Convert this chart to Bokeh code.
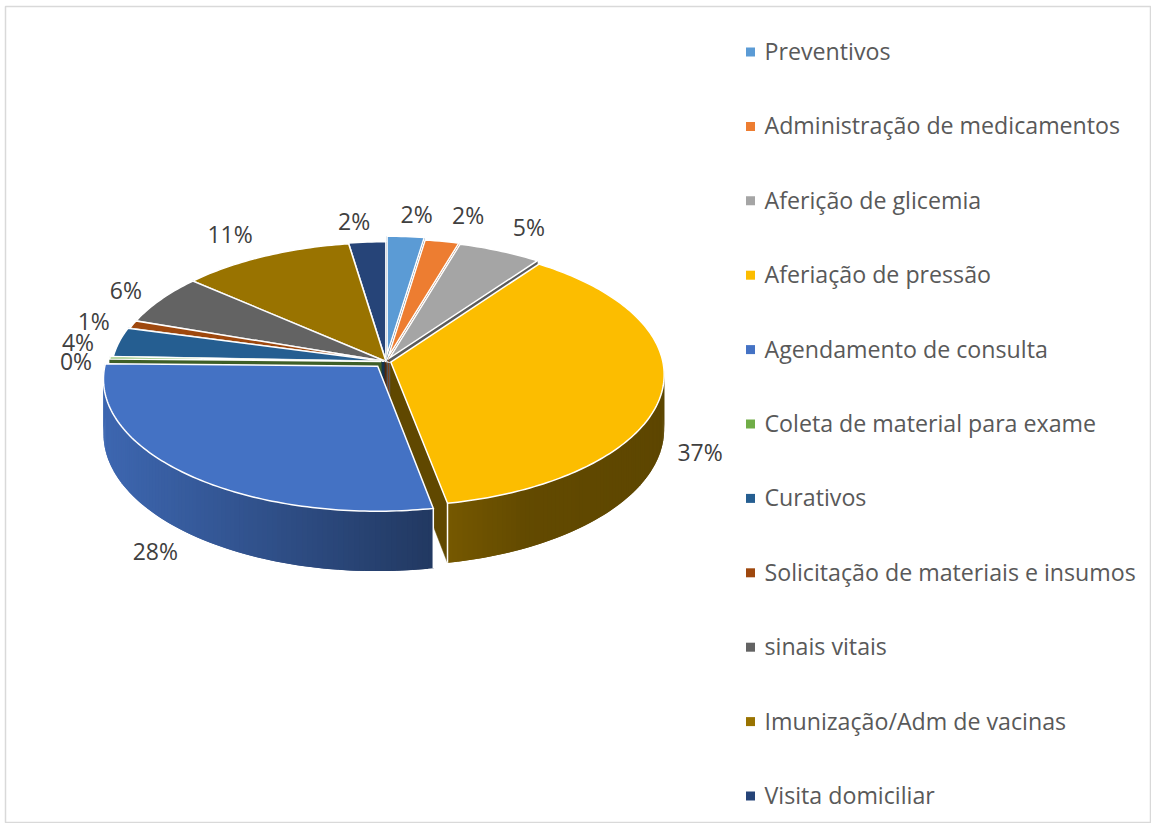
import math
import numpy as np
from bokeh.plotting import figure
from bokeh.models import Range1d
from bokeh.core.properties import value
from bokeh.embed import file_html
from bokeh.resources import INLINE

categories = ["Preventivos", "Administração de medicamentos", "Aferição de glicemia",
              "Aferiação de pressão", "Agendamento de consulta", "Coleta de material para exame",
              "Curativos", "Solicitação de materiais e insumos", "sinais vitais",
              "Imunização/Adm de vacinas", "Visita domiciliar"]
shares = [2.4, 2.2, 5.4, 37.0, 28.3, 0.3, 3.6, 1.0, 6.2, 11.2, 2.4]
colors = ["#5b9bd5", "#ed7d31", "#a5a5a5", "#fcbd00", "#4472c4", "#70ad47",
          "#255e91", "#9e480e", "#636363", "#997300", "#264478"]
explode = [0.058, 0.036, 0.029, 0.018, 0.047, 0.018, 0.007, 0.0, 0.0, 0.0, 0.007]
label_nudge = [(11, -23), (26, -26), (29, -24), (38, 61), (-32, 77), (-34, 3),
               (-41, 0), (-39, -4), (-35, -10), (-35, -22), (-13, -21)]

W, H = 1151, 823
CX, CY, RX, RY, K, DEPTH = 385.5, 361.0, 272.0, 130.3, 0.095, 54.0
LEFT, SPAN = 103.0, 562.0

p = figure(width=W, height=H, x_range=Range1d(0, W), y_range=Range1d(H, 0),
           x_axis_type=None, y_axis_type=None, toolbar_location=None,
           output_backend="svg", min_border=0, background_fill_color="white",
           outline_line_color=None)
p.grid.visible = False

# chart frame
p.quad(left=[5], right=[W - 1], top=[6], bottom=[H - 1], fill_color=None,
       line_color="#d9d9d9", line_width=1.5)


def proj(gx, gy, z=0.0):
    s = 1.0 / (1.0 + K * gy)
    return CX + RX * gx * s, CY - RY * gy * s + z * DEPTH * s


def hexrgb(c):
    return tuple(int(c[i:i + 2], 16) for i in (1, 3, 5))


def shade(c, f):
    return "#%02x%02x%02x" % tuple(int(round(v * f)) for v in hexrgb(c))


total = sum(shares)
cum = np.concatenate([[0], np.cumsum(shares)]) / total * 2 * math.pi
slices = []
for i in range(len(shares)):
    a1, a2 = math.pi / 2 - cum[i], math.pi / 2 - cum[i + 1]
    mid = (a1 + a2) / 2
    slices.append((math.sin(mid), i, a1, a2, mid))

# painter's order: back slices first
for _, i, a1, a2, mid in sorted(slices, key=lambda t: -t[0]):
    ox, oy = explode[i] * math.cos(mid), explode[i] * math.sin(mid)
    n = max(3, int(abs(a1 - a2) / math.radians(1.0)))
    ang = np.linspace(a1, a2, n + 1)
    col = colors[i]

    # radial walls
    for a in (a1, a2):
        gx, gy = ox + math.cos(a), oy + math.sin(a)
        pts = [proj(ox, oy, 0), proj(gx, gy, 0), proj(gx, gy, 1), proj(ox, oy, 1)]
        wall = shade(col, 0.38 if i in (3, 4) else 0.55)
        p.patch([q[0] for q in pts], [q[1] for q in pts], fill_color=wall,
                line_color=wall, line_width=0.5)

    # outer rim, in overlapping shaded strips painted from one end to the other
    xs, ys, fc = [], [], []
    for k in range(n):
        a, b = ang[k], ang[min(k + 2, n)]
        if math.sin((ang[k] + ang[k + 1]) / 2) > 0.02:
            continue
        q1 = proj(ox + math.cos(a), oy + math.sin(a), 0)
        q2 = proj(ox + math.cos(b), oy + math.sin(b), 0)
        q3 = proj(ox + math.cos(b), oy + math.sin(b), 1)
        q4 = proj(ox + math.cos(a), oy + math.sin(a), 1)
        xs.append([q1[0], q2[0], q3[0], q4[0]])
        ys.append([q1[1], q2[1], q3[1], q4[1]])
        t = ((q1[0] + q2[0]) / 2 - LEFT) / SPAN
        fc.append(shade(col, float(np.interp(t, [0, 0.59, 0.62, 0.75, 1],
                                             [0.9, 0.49, 0.46, 0.39, 0.37]))))
    if xs:
        p.patches(xs, ys, fill_color=fc, line_color=None)
        for a in (a1, a2):
            if math.sin(a) < -0.02:
                gx, gy = ox + math.cos(a), oy + math.sin(a)
                e0, e1 = proj(gx, gy, 0), proj(gx, gy, 1)
                p.line([e0[0], e1[0]], [e0[1], e1[1]], line_color="white", line_width=1.5)

    # top face
    top = [proj(ox, oy)] + [proj(ox + math.cos(a), oy + math.sin(a)) for a in ang]
    p.patch([q[0] for q in top], [q[1] for q in top], fill_color=col,
            line_color="white", line_width=1.5, line_join="miter")

# data labels
for _, i, a1, a2, mid in slices:
    ox, oy = explode[i] * math.cos(mid), explode[i] * math.sin(mid)
    rx, ry = proj(ox + math.cos(mid), oy + math.sin(mid))
    p.text([rx + label_nudge[i][0]], [ry + label_nudge[i][1]],
           text=["%d%%" % round(shares[i])], text_font=value("Open Sans"),
           text_font_size="23px", text_color="#404040",
           text_align="center", text_baseline="middle")

# legend
LEG_TOP, LEG_STEP = 50.5, 74.4
leg_y = [LEG_TOP + LEG_STEP * k for k in range(len(categories))]
p.scatter([750] * len(categories), [y + 1 for y in leg_y], marker="square", size=9,
          fill_color=colors, line_color=None)
p.text([764] * len(categories), leg_y, text=categories, text_font=value("Open Sans"),
       text_font_size="23.2px", text_color="#595959",
       text_align="left", text_baseline="middle")

open("out.html", "w").write(file_html(p, INLINE))
